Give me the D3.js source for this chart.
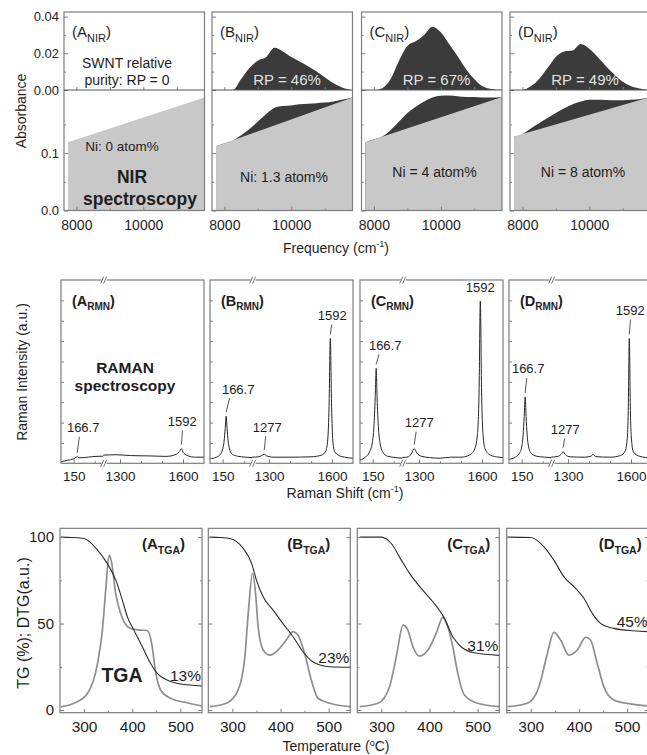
<!DOCTYPE html>
<html><head><meta charset="utf-8">
<script src="https://cdn.jsdelivr.net/npm/d3@7/dist/d3.min.js"></script>
<style>
html,body{margin:0;padding:0;background:#fff;}
svg{display:block;}
</style></head>
<body><svg id="chart" width="647" height="755"></svg>
<script>
// ================= DATA =================
const panelIds = ["A", "B", "C", "D"];

// ---- NIR (frequency in cm-1, absorbance) ----
const nirFreq = [7750, 8000, 8250, 8500, 8750, 9000, 9250, 9500, 9750, 10000, 10250, 10500, 10750, 11000, 11250, 11500, 11830];
// SWNT band (upper sub-panel)
const nirSwntB = [0, 0, 0, 0.006, 0.012, 0.016, 0.018, 0.023, 0.021, 0.018, 0.0155, 0.013, 0.0102, 0.007, 0.0038, 0.0015, 0];
const nirSwntC = [0, 0, 0.001, 0.006, 0.016, 0.024, 0.0265, 0.030, 0.0345, 0.0315, 0.025, 0.0185, 0.0115, 0.006, 0.002, 0.0005, 0];
const nirSwntD = [0, 0, 0.002, 0.006, 0.012, 0.018, 0.021, 0.0215, 0.025, 0.0225, 0.018, 0.013, 0.0085, 0.0045, 0.002, 0.0008, 0];
// total absorbance (lower sub-panel, dark)
const nirTotalB = [0.112, 0.117, 0.122, 0.131, 0.142, 0.155, 0.168, 0.179, 0.182, 0.183, 0.185, 0.186, 0.187, 0.188, 0.190, 0.193, 0.197];
const nirTotalC = [0.119, 0.124, 0.129, 0.140, 0.155, 0.170, 0.181, 0.190, 0.197, 0.200, 0.2005, 0.199, 0.198, 0.198, 0.197, 0.197, 0.198];
const nirTotalD = [0.129, 0.133, 0.143, 0.152, 0.161, 0.170, 0.178, 0.185, 0.190, 0.193, 0.193, 0.1925, 0.192, 0.192, 0.193, 0.194, 0.197];
// linear baseline (lower sub-panel, light grey)
const nirBaseFreq = [7750, 11830];
const nirBaseA = [0.119, 0.197];
const nirBaseB = [0.112, 0.197];
const nirBaseC = [0.119, 0.198];
const nirBaseD = [0.129, 0.198];
const nirRP = ["RP = 0", "RP = 46%", "RP = 67%", "RP = 49%"];
const nirNi = ["Ni: 0 atom%", "Ni: 1.3 atom%", "Ni = 4 atom%", "Ni = 8 atom%"];
const nirXTicks = [8000, 10000];
const nirXMinor = [9000, 11000];
const nirYUTicks = [0, 0.02, 0.04];
const nirYLTicks = [0, 0.1];

// ---- RAMAN (shift cm-1, intensity a.u.) ----
const ramanA = [[90,0.08],[120,0.15],[150,0.22],[160,0.28],[167,0.32],[175,0.27],[200,0.28],[240,0.33],[290,0.35],
  [1220,0.4],[1280,0.42],[1350,0.38],[1450,0.36],[1520,0.34],[1570,0.45],[1585,0.62],[1592,0.72],[1600,0.55],[1620,0.38],[1660,0.3],[1700,0.3]];
const ramanB = [[90,0.22],[120,0.3],[140,0.45],[150,0.7],[157,1.1],[162,1.7],[166.7,2.32],[171,1.7],[176,1.1],[183,0.7],[195,0.45],[220,0.35],[260,0.3],[290,0.28],
  [1220,0.3],[1250,0.32],[1265,0.38],[1277,0.45],[1290,0.36],[1320,0.3],[1400,0.3],[1500,0.32],[1550,0.4],[1570,0.6],[1580,1.2],[1586,2.8],[1592,6.13],[1598,2.8],[1604,1.1],[1612,0.6],[1630,0.4],[1660,0.3],[1700,0.25]];
const ramanC = [[90,0.15],[115,0.3],[135,0.55],[148,1.0],[156,1.8],[162,3.2],[166.7,4.66],[171,3.2],[177,1.8],[185,1.0],[198,0.55],[220,0.35],[260,0.28],[290,0.25],
  [1220,0.28],[1250,0.32],[1265,0.5],[1277,0.72],[1290,0.5],[1310,0.35],[1350,0.28],[1400,0.25],[1450,0.3],[1500,0.3],[1540,0.4],[1565,0.7],[1578,1.4],[1586,3.5],[1592,7.97],[1598,3.5],[1605,1.4],[1615,0.7],[1640,0.4],[1680,0.3],[1700,0.28]];
const ramanD = [[90,0.2],[120,0.3],[140,0.5],[150,0.8],[157,1.4],[162,2.3],[166.7,3.26],[171,2.3],[176,1.4],[183,0.8],[195,0.5],[220,0.35],[260,0.3],[290,0.28],
  [1220,0.3],[1255,0.35],[1268,0.45],[1277,0.57],[1288,0.42],[1310,0.32],[1380,0.3],[1410,0.35],[1420,0.45],[1430,0.33],[1500,0.3],[1550,0.38],[1572,0.6],[1582,1.2],[1587,2.6],[1592,6.13],[1597,2.6],[1603,1.1],[1612,0.55],[1640,0.35],[1700,0.25]];
const ramanPeaks = ["166.7", "1277", "1592"];
const ramanXTicks = [150, 1300, 1600];
const ramanXMinor = [250, 1400, 1500];
const ramanYTicks = [1, 2, 3, 4, 5, 6, 7, 8];

// ---- TGA (temperature degC, %) ----
const tgA = [[252,100],[275,99.8],[300,99.2],[328,92.5],[348,84.8],[366,75.1],[379.5,63.6],[390,53.9],[403.5,46.2],[421,36.6],[438,27],[452,21.2],[472.7,17.3],[500,15],[545,13.9]];
const dtgA = [[252,1.9],[279,3.9],[307,9.6],[328,27],[338,46],[345,69.4],[352,89.6],[357,85.7],[365.6,67.4],[376,55.9],[390,48.2],[403.5,46.6],[417,46.2],[431,46],[441.6,36.6],[448,23],[459,11.6],[479.5,6.8],[514,4.2],[545,2.3]];
const tgB = [[253,100],[275,99.8],[295,99.2],[322.5,93.5],[340,84.8],[350,75.1],[364,65.5],[384.6,57.8],[405,50],[426,42.4],[446.7,33.7],[467,27.9],[502,25],[545,24.7]];
const dtgB = [[253,1.9],[288,3.9],[312,11.6],[326,30.8],[333,55.9],[342,79],[348.8,65.5],[353.5,48.2],[364,34.7],[377.7,31.8],[395,34.7],[412,40.5],[426,45.3],[436,43.4],[450,32.8],[464,17.3],[477.7,6.8],[502,3.9],[545,2]];
const tgC = [[255,100],[300,100],[320.7,96.3],[341.4,86.7],[358.6,79],[382.8,70.3],[407,62.6],[431,53],[448.4,42.4],[465.6,36.6],[493,33.1],[545,31.6]];
const dtgC = [[255,1.9],[293,3.9],[317,13.5],[331,30.8],[345,49.1],[355,46.2],[365.6,36.6],[379,31.2],[396.7,34.7],[413.9,44.3],[427.7,53.6],[438,48.2],[448.4,36.6],[458.8,21.2],[472.5,8.7],[500,3.9],[545,1.9]];
const tgD = [[252,100],[300,99.8],[327.5,94.4],[348,86.7],[369,77],[389.6,71.3],[410.4,64.6],[427.7,55.9],[445,50.1],[472.5,47.2],[514,45.8],[545,45.3]];
const dtgD = [[252,1.9],[293,3.9],[317,13.5],[334.5,32.7],[348,44.9],[362,40.5],[379,31.8],[396.7,34.7],[414,42],[424,40.5],[438,27],[451.8,13.5],[472.5,5.8],[507,3.5],[545,2.3]];
const tgaResidue = ["13%", "23%", "31%", "45%"];
const tgaXTicks = [300, 400, 500];
const tgaXMinor = [350, 450];
const tgaYTicks = [0, 50, 100];
const tgaYMinor = [25, 75];

// ================= DRAWING =================
const FONT = "'Liberation Sans', Arial, Helvetica, sans-serif";
const AX = "#7d7d7d", TXT = "#1e1e1e", DARK = "#3b3b3b", LIGHT = "#c8c8c8";
const svg = d3.select("#chart").attr("font-family", FONT);

function styleAxis(a, fs) {
  a.select(".domain").remove();
  a.selectAll(".tick line").attr("stroke", AX).attr("stroke-width", 1);
  a.selectAll(".tick text").attr("fill", TXT).attr("font-size", fs).attr("font-family", FONT);
  return a;
}
function addAxis(g, gen, tx, ty, fs) {
  return styleAxis(g.append("g").attr("transform", `translate(${tx},${ty})`).call(gen), fs);
}
function subLabel(g, x, y, letter, sub, fs, sfs, weight, anchor) {
  const t = g.append("text").attr("x", x).attr("y", y).attr("font-size", fs)
    .attr("font-weight", weight).attr("text-anchor", anchor).attr("fill", TXT);
  t.append("tspan").text("(" + letter);
  t.append("tspan").attr("font-size", sfs).attr("dy", fs * 0.3).text(sub);
  t.append("tspan").attr("dy", -fs * 0.3).text(")");
  return t;
}
function border(g, x, y, w, h) {
  g.append("rect").attr("x", x).attr("y", y).attr("width", w).attr("height", h)
    .attr("fill", "none").attr("stroke", AX).attr("stroke-width", 1.2);
}

// ---------- NIR row ----------
const nirLeft = [64, 212, 361.5, 510], nirW = 140.5;
const nirTop = 12, nirMid = 90, nirBot = 210.5;
const nirX = d3.scaleLinear().domain([7630, 11830]).range([0, nirW]);
const nirYU = d3.scaleLinear().domain([0, 0.0425]).range([nirMid, nirTop]);
const nirYL = d3.scaleLinear().domain([0, 0.21]).range([nirBot, nirMid]);
const nirSwnt = [null, nirSwntB, nirSwntC, nirSwntD];
const nirTotal = [null, nirTotalB, nirTotalC, nirTotalD];
const nirBase = [nirBaseA, nirBaseB, nirBaseC, nirBaseD];
const areaU = d3.area().x(d => nirX(d[0])).y0(nirYU(0)).y1(d => nirYU(d[1])).curve(d3.curveMonotoneX);
const areaL = d3.area().x(d => nirX(d[0])).y0(nirYL(0)).y1(d => nirYL(d[1])).curve(d3.curveMonotoneX);
const areaB = d3.area().x(d => nirX(d[0])).y0(nirYL(0)).y1(d => nirYL(d[1]));

panelIds.forEach((id, i) => {
  const g = svg.append("g").attr("transform", `translate(${nirLeft[i]},0)`);
  if (nirSwnt[i]) g.append("path").attr("d", areaU(nirFreq.map((f, k) => [f, nirSwnt[i][k]]))).attr("fill", DARK);
  if (nirTotal[i]) g.append("path").attr("d", areaL(nirFreq.map((f, k) => [f, nirTotal[i][k]]))).attr("fill", DARK);
  g.append("path").attr("d", areaB(nirBaseFreq.map((f, k) => [f, nirBase[i][k]]))).attr("fill", LIGHT);

  const lab = i === 0;
  addAxis(g, d3.axisLeft(nirYU).tickValues(nirYUTicks).tickSizeInner(-4).tickSizeOuter(0).tickPadding(5)
    .tickFormat(lab ? d3.format(".2f") : () => ""), 0, 0, 13);
  addAxis(g, d3.axisLeft(nirYU).tickValues([0.01, 0.03]).tickSizeInner(-2).tickSizeOuter(0).tickFormat(() => ""), 0, 0, 13);
  addAxis(g, d3.axisLeft(nirYL).tickValues(nirYLTicks).tickSizeInner(-4).tickSizeOuter(0).tickPadding(5)
    .tickFormat(lab ? d3.format(".1f") : () => ""), 0, 0, 13);
  addAxis(g, d3.axisLeft(nirYL).tickValues([0.05, 0.15]).tickSizeInner(-2).tickSizeOuter(0).tickFormat(() => ""), 0, 0, 13);
  addAxis(g, d3.axisBottom(nirX).tickValues(nirXTicks).tickSizeInner(-4).tickSizeOuter(0).tickPadding(10)
    .tickFormat(d3.format("d")), 0, nirBot, 14);
  addAxis(g, d3.axisBottom(nirX).tickValues(nirXMinor).tickSizeInner(-2).tickSizeOuter(0).tickFormat(() => ""), 0, nirBot, 14);
  addAxis(g, d3.axisBottom(nirX).tickValues(nirXTicks.concat(nirXMinor)).tickSizeInner(-3).tickSizeOuter(0).tickFormat(() => ""), 0, nirMid, 14);

  border(g, 0, nirTop, nirW, nirBot - nirTop);
  g.append("line").attr("x1", 0).attr("x2", nirW).attr("y1", nirMid).attr("y2", nirMid).attr("stroke", "#555").attr("stroke-width", 1.2);

  subLabel(g, 8, 37, id, "NIR", 15, 11, "normal", "start");
  if (i === 0) {
    g.append("text").attr("x", 63).attr("y", 68).attr("text-anchor", "middle").attr("font-size", 14).attr("fill", TXT).text("SWNT relative");
    g.append("text").attr("x", 63).attr("y", 85).attr("text-anchor", "middle").attr("font-size", 14).attr("fill", TXT).text("purity: " + nirRP[0]);
    g.append("text").attr("x", 58).attr("y", 151).attr("text-anchor", "middle").attr("font-size", 13.5).attr("fill", TXT).text(nirNi[0]);
    g.append("text").attr("x", 68).attr("y", 183).attr("text-anchor", "middle").attr("font-size", 17.5).attr("font-weight", "bold").attr("fill", TXT).text("NIR");
    g.append("text").attr("x", 76).attr("y", 205).attr("text-anchor", "middle").attr("font-size", 17.5).attr("font-weight", "bold").attr("fill", TXT).text("spectroscopy");
  } else {
    g.append("text").attr("x", 75).attr("y", 85).attr("text-anchor", "middle").attr("font-size", 15).attr("fill", "#e2e2e2").text(nirRP[i]);
    g.append("text").attr("x", i === 1 ? 72 : 73).attr("y", i === 1 ? 182 : 177).attr("text-anchor", "middle").attr("font-size", 14).attr("fill", TXT).text(nirNi[i]);
  }
});
// NIR axis titles
svg.append("text").attr("transform", "translate(26,111) rotate(-90)").attr("text-anchor", "middle")
  .attr("font-size", 14).attr("fill", TXT).text("Absorbance");
{
  const t = svg.append("text").attr("x", 336).attr("y", 253).attr("text-anchor", "middle").attr("font-size", 14).attr("fill", TXT);
  t.append("tspan").text("Frequency (cm");
  t.append("tspan").attr("font-size", 9).attr("dy", -6).text("-1");
  t.append("tspan").attr("dy", 6).text(")");
}

// ---------- RAMAN row ----------
const ramLeft = [61, 210, 360, 509], ramW = 143;
const ramTop = 280, ramBot = 463.3;
const ramX = d3.scaleLinear().domain([90, 290, 1220, 1700]).range([0, 42.2, 42.2, ramW]);
const ramY = d3.scaleLinear().domain([0, 9]).range([ramBot, ramTop]);
const ramData = [ramanA, ramanB, ramanC, ramanD];
const ramLine = d3.line().x(d => ramX(d[0])).y(d => ramY(d[1])).curve(d3.curveMonotoneX);
// label layout: [dx, dy above peak top] (null = not labelled)
const ramLabelLayout = [
  [[6, -29], null, [1, -27]],
  [[12, -27], [3, -27], [2, -23]],
  [[9, -23], [5, -26], [0, -13]],
  [[3, -28], [2, -22], [1, -28]]
];

panelIds.forEach((id, i) => {
  const g = svg.append("g").attr("transform", `translate(${ramLeft[i]},0)`);
  const data = ramData[i];
  g.append("path").attr("d", ramLine(data.filter(d => d[0] <= 290))).attr("fill", "none").attr("stroke", "#262626").attr("stroke-width", 1);
  g.append("path").attr("d", ramLine(data.filter(d => d[0] >= 1220))).attr("fill", "none").attr("stroke", "#262626").attr("stroke-width", 1);

  addAxis(g, d3.axisLeft(ramY).tickValues(ramanYTicks).tickSizeInner(-3).tickSizeOuter(0).tickFormat(() => ""), 0, 0, 13);
  addAxis(g, d3.axisBottom(ramX).tickValues(ramanXTicks).tickSizeInner(-4).tickSizeOuter(0).tickPadding(8)
    .tickFormat(d3.format("d")), 0, ramBot, 13.5);
  addAxis(g, d3.axisBottom(ramX).tickValues(ramanXMinor).tickSizeInner(-2).tickSizeOuter(0).tickFormat(() => ""), 0, ramBot, 13);
  border(g, 0, ramTop, ramW, ramBot - ramTop);

  // axis breaks
  const bx = ramX(290) + 1;
  [ramTop, ramBot].forEach(yy => {
    g.append("rect").attr("x", bx - 2.5).attr("y", yy - 2).attr("width", 5).attr("height", 4).attr("fill", "#fff");
    [-2, 1].forEach(o => g.append("line").attr("x1", bx + o - 1.5).attr("y1", yy + 3.5).attr("x2", bx + o + 1.5).attr("y2", yy - 3.5)
      .attr("stroke", "#666").attr("stroke-width", 0.9));
  });

  // peak labels
  ramanPeaks.forEach((p, k) => {
    const lay = ramLabelLayout[i][k];
    if (!lay) return;
    const pv = +p;
    const near = data.filter(d => Math.abs(d[0] - pv) < 12);
    const top = d3.max(near, d => d[1]);
    const px = ramX(pv), py = ramY(top);
    const ly = py + lay[1];
    g.append("text").attr("x", px + lay[0]).attr("y", ly + 4.5).attr("text-anchor", "middle")
      .attr("font-size", 13).attr("fill", TXT).text(p);
    const y1 = ly + 9, y2 = py - 4;
    if (y2 - y1 > 2) g.append("line").attr("x1", px + lay[0] * 0.2 + 1).attr("y1", y1).attr("x2", px).attr("y2", y2)
      .attr("stroke", "#444").attr("stroke-width", 0.9);
  });

  subLabel(g, 11, 306, id, "RMN", 14.5, 10, "bold", "start");
  if (i === 0) {
    g.append("text").attr("x", 64).attr("y", 373).attr("text-anchor", "middle").attr("font-size", 15.5).attr("font-weight", "bold").attr("fill", TXT).text("RAMAN");
    g.append("text").attr("x", 64).attr("y", 391).attr("text-anchor", "middle").attr("font-size", 15.5).attr("font-weight", "bold").attr("fill", TXT).text("spectroscopy");
  }
});
svg.append("text").attr("transform", "translate(27,372) rotate(-90)").attr("text-anchor", "middle")
  .attr("font-size", 14).attr("fill", TXT).text("Raman Intensity (a.u.)");
{
  const t = svg.append("text").attr("x", 345).attr("y", 498).attr("text-anchor", "middle").attr("font-size", 14).attr("fill", TXT);
  t.append("tspan").text("Raman Shift (cm");
  t.append("tspan").attr("font-size", 9).attr("dy", -6).text("-1");
  t.append("tspan").attr("dy", 6).text(")");
}

// ---------- TGA row ----------
const tgaLeft = [60, 208.3, 357.3, 506.7], tgaW = 142;
const tgaTop = 528.3, tgaBot = 712.7;
const tgaX = d3.scaleLinear().domain([250, 545]).range([0, tgaW]);
const tgaY = d3.scaleLinear().domain([-1.56, 105.1]).range([tgaBot, tgaTop]);
const tgData = [tgA, tgB, tgC, tgD];
const dtgData = [dtgA, dtgB, dtgC, dtgD];
const tgaLine = d3.line().x(d => tgaX(d[0])).y(d => tgaY(d[1])).curve(d3.curveMonotoneX);
const tgaLabelEnd = [125, 122, 133, 135];

panelIds.forEach((id, i) => {
  const g = svg.append("g").attr("transform", `translate(${tgaLeft[i]},0)`);
  g.append("path").attr("d", tgaLine(dtgData[i])).attr("fill", "none").attr("stroke", "#8e8e8e").attr("stroke-width", 1.7);
  g.append("path").attr("d", tgaLine(tgData[i])).attr("fill", "none").attr("stroke", "#2a2a2a").attr("stroke-width", 1.1);

  const lab = i === 0;
  addAxis(g, d3.axisLeft(tgaY).tickValues(tgaYTicks).tickSizeInner(-4).tickSizeOuter(0).tickPadding(6)
    .tickFormat(lab ? d3.format("d") : () => ""), 0, 0, 15);
  addAxis(g, d3.axisLeft(tgaY).tickValues(tgaYMinor).tickSizeInner(-2).tickSizeOuter(0).tickFormat(() => ""), 0, 0, 15);
  addAxis(g, d3.axisRight(tgaY).tickValues(tgaYTicks).tickSizeInner(-4).tickSizeOuter(0).tickFormat(() => ""), tgaW, 0, 15);
  addAxis(g, d3.axisRight(tgaY).tickValues(tgaYMinor).tickSizeInner(-2).tickSizeOuter(0).tickFormat(() => ""), tgaW, 0, 15);
  addAxis(g, d3.axisBottom(tgaX).tickValues(tgaXTicks).tickSizeInner(-4).tickSizeOuter(0).tickPadding(8)
    .tickFormat(d3.format("d")), 0, tgaBot, 15.5);
  addAxis(g, d3.axisBottom(tgaX).tickValues(tgaXMinor).tickSizeInner(-2).tickSizeOuter(0).tickFormat(() => ""), 0, tgaBot, 15.5);
  border(g, 0, tgaTop, tgaW, tgaBot - tgaTop);

  subLabel(g, tgaLabelEnd[i], 549, id, "TGA", 15, 10.5, "bold", "end");
  const last = tgData[i][tgData[i].length - 1];
  g.append("text").attr("x", tgaW - 1).attr("y", tgaY(last[1]) - 10 + 5.5).attr("text-anchor", "end")
    .attr("font-size", 15.5).attr("fill", TXT).text(tgaResidue[i]);
  if (i === 0) {
    g.append("text").attr("x", 62).attr("y", 682).attr("text-anchor", "middle").attr("font-size", 19.5)
      .attr("font-weight", "bold").attr("fill", TXT).text("TGA");
  }
});
svg.append("text").attr("transform", "translate(29,623) rotate(-90)").attr("text-anchor", "middle")
  .attr("font-size", 16).attr("fill", TXT).text("TG (%); DTG(a.u.)");
{
  const t = svg.append("text").attr("x", 336).attr("y", 751).attr("text-anchor", "middle").attr("font-size", 14).attr("fill", TXT);
  t.append("tspan").text("Temperature (");
  t.append("tspan").attr("font-size", 9).attr("dy", -5).text("o");
  t.append("tspan").attr("dy", 5).text("C)");
}
</script>
</body></html>
